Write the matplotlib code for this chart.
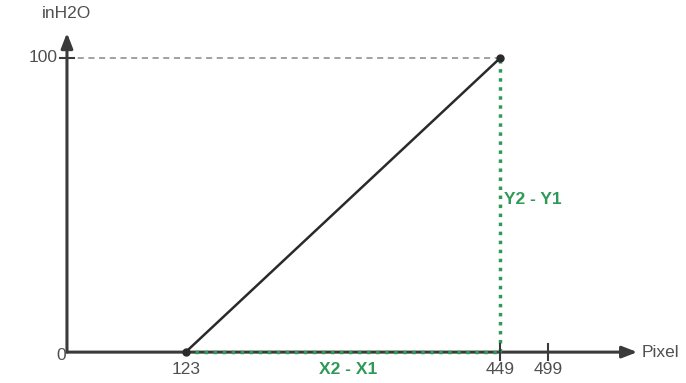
import matplotlib.pyplot as plt

plt.rcParams['font.family'] = ['Liberation Sans', 'DejaVu Sans']

# calibration points (pixel -> inH2O)
x_points = [123, 449]
y_points = [0, 100]
x_ticks = [123, 449, 499]
y_ticks = [0, 100]
x_label = "Pixel"
y_label = "inH2O"

axis_color = "#3a3a3a"
text_color = "#505050"
green = "#2f9a58"
fs = 12.5

fig = plt.figure(figsize=(6.86, 3.83), dpi=100)
ax = fig.add_axes([0, 0, 1, 1])
ax.set_xlim(-69.4, 641.5)
ax.set_ylim(-10.5, 119.7)
ax.axis("off")

x_end = 591
y_end = 108.5

# axes with arrows
ax.annotate("", xy=(x_end, 0), xytext=(0, 0),
            arrowprops=dict(arrowstyle="-|>,head_length=0.9,head_width=0.35",
                            color=axis_color, lw=2.2, shrinkA=0, shrinkB=0))
ax.annotate("", xy=(0, y_end), xytext=(0, 0),
            arrowprops=dict(arrowstyle="-|>,head_length=0.9,head_width=0.35",
                            color=axis_color, lw=2.2, shrinkA=0, shrinkB=0))

# reference dashed line at 100
ax.plot([0, x_points[1]], [y_points[1], y_points[1]], ls=(0, (4, 3)),
        color="#888888", lw=1.1)

# green difference lines
ax.plot([x_points[0], x_points[1]], [y_points[0], y_points[0]], ls=(0, (1, 1.6)),
        color=green, lw=2.5, zorder=3)
ax.plot([x_points[1], x_points[1]], [y_points[0], y_points[1]], ls=(0, (1, 1.6)),
        color=green, lw=2.5, zorder=3)

# calibration line
ax.plot(x_points, y_points, color="#2a2a2a", lw=1.8, marker="o", ms=5, zorder=4)

# tick marks
for t in x_ticks[1:]:
    ax.plot([t, t], [-2.8, 2.8], color=axis_color, lw=1.5, zorder=5)
ax.plot([-7, 7], [y_ticks[1], y_ticks[1]], color=axis_color, lw=1.5)

# tick labels
for t in x_ticks:
    ax.text(t, -3.5, str(t), ha="center", va="top", fontsize=fs, color=text_color)
ax.text(-10, y_ticks[1], str(y_ticks[1]), ha="right", va="center", fontsize=fs,
        color=text_color)
ax.text(-1.5, -1.2, str(y_ticks[0]), ha="right", va="center", fontsize=fs,
        color=text_color)

ax.text(x_end + 5, 0, x_label, ha="left", va="center", fontsize=fs, color=text_color)
ax.text(0, y_end + 4, y_label, ha="center", va="bottom", fontsize=fs, color=text_color)

ax.text((x_points[0] + x_points[1]) / 2 + 5, -3.5, "X2 - X1", ha="center", va="top",
        fontsize=fs, color=green, fontweight="bold")
ax.text(x_points[1] + 4, 52, "Y2 - Y1", ha="left", va="center",
        fontsize=fs, color=green, fontweight="bold")

fig.savefig("out.png", dpi=100)
